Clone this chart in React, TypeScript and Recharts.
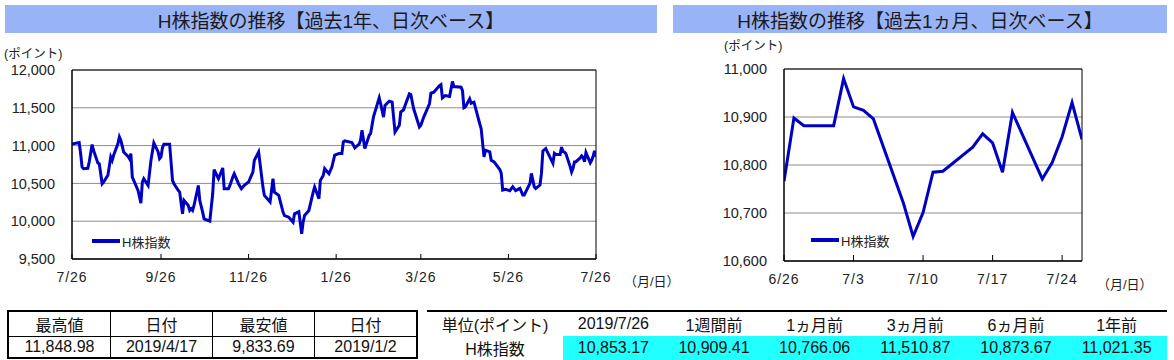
import React from 'react';
import { LineChart, Line, XAxis, YAxis, CartesianGrid, ReferenceArea, Legend } from 'recharts';

// ---------- data: past 1 year (daily) ----------
const yearDates: string[] = [
  '2018-07-26','2018-07-31','2018-08-01','2018-08-02','2018-08-03','2018-08-06','2018-08-07','2018-08-09','2018-08-10','2018-08-13',
  '2018-08-14','2018-08-16','2018-08-17','2018-08-20','2018-08-22','2018-08-23','2018-08-24','2018-08-27','2018-08-28','2018-08-29',
  '2018-08-31','2018-09-03','2018-09-04','2018-09-05','2018-09-06','2018-09-07','2018-09-10','2018-09-12','2018-09-13','2018-09-14',
  '2018-09-17','2018-09-19','2018-09-21','2018-09-24','2018-09-25','2018-09-26','2018-09-27','2018-09-28','2018-10-02','2018-10-03',
  '2018-10-04','2018-10-05','2018-10-08','2018-10-09','2018-10-11','2018-10-12','2018-10-15','2018-10-16','2018-10-17','2018-10-18',
  '2018-10-19','2018-10-22','2018-10-23','2018-10-25','2018-10-26','2018-10-30','2018-11-01','2018-11-02','2018-11-05','2018-11-08',
  '2018-11-09','2018-11-12','2018-11-13','2018-11-15','2018-11-16','2018-11-19','2018-11-21','2018-11-23','2018-11-26','2018-11-28',
  '2018-11-29','2018-11-30','2018-12-03','2018-12-04','2018-12-06','2018-12-07','2018-12-11','2018-12-13','2018-12-14','2018-12-17',
  '2018-12-20','2018-12-21','2018-12-24','2018-12-27','2018-12-28','2018-12-31','2019-01-02','2019-01-03','2019-01-04','2019-01-07',
  '2019-01-10','2019-01-11','2019-01-14','2019-01-15','2019-01-17','2019-01-18','2019-01-21','2019-01-23','2019-01-25','2019-01-28',
  '2019-01-30','2019-01-31','2019-02-01','2019-02-06','2019-02-08','2019-02-11','2019-02-12','2019-02-13','2019-02-15','2019-02-18',
  '2019-02-19','2019-02-21','2019-02-25','2019-02-26','2019-02-28','2019-03-01','2019-03-04','2019-03-06','2019-03-08','2019-03-11',
  '2019-03-12','2019-03-14','2019-03-15','2019-03-18','2019-03-19','2019-03-21','2019-03-25','2019-03-26','2019-03-28','2019-04-01',
  '2019-04-02','2019-04-04','2019-04-08','2019-04-09','2019-04-10','2019-04-12','2019-04-15','2019-04-17','2019-04-18','2019-04-23',
  '2019-04-24','2019-04-25','2019-04-26','2019-04-29','2019-04-30','2019-05-02','2019-05-06','2019-05-07','2019-05-09','2019-05-10',
  '2019-05-13','2019-05-14','2019-05-16','2019-05-20','2019-05-21','2019-05-22','2019-05-24','2019-05-27','2019-05-29','2019-05-31',
  '2019-06-03','2019-06-04','2019-06-05','2019-06-06','2019-06-10','2019-06-11','2019-06-13','2019-06-14','2019-06-17','2019-06-18',
  '2019-06-19','2019-06-21',
];
const yearValues: number[] = [
  11021.35,11040,10895,10717,10695,10700,10783,11013,10938,10770,
  10761,10496,10518,10607,10850,10805,10872,11026,11115,11070,
  10916,10858,10827,10894,10584,10540,10407,10239,10518,10562,
  10473,10805,11035,10916,10827,10850,10973,11018,11018,10783,
  10540,10496,10407,10385,10098,10275,10208,10142,10164,10142,
  10208,10473,10275,10120,10031,10000,10363,10682,10562,10704,
  10430,10430,10473,10584,10628,10496,10430,10473,10518,10606,
  10650,10805,10916,10761,10451,10341,10253,10562,10385,10341,
  10120,10075,10053,9987,10098,10124,9833.69,9987,10075,10142,
  10385,10451,10297,10540,10606,10695,10628,10717,10873.67,10894,
  10894,11049,11062,11040,10969,11018,11071,11203,10960,11137,
  11159,11380,11632,11553,11377,11531,11588,11575,11180,11268,
  11443,11474,11531,11684,11675,11487,11246,11268,11377,11553,
  11693,11706,11794,11807,11632,11662,11649,11848.98,11781,11772,
  11728,11500,11510.87,11618,11561,11575,11289,11224,10851,10939,
  10917,10807,10785,10684,10632,10412,10421,10404,10456,10404,
  10434,10390,10347,10347,10500,10632,10456,10434,10478,10632,
  10930,10961,
];

// ---------- data: past 1 month (daily) ----------
const monthDates: string[] = [
  '2019-06-26','2019-06-27','2019-06-28','2019-07-01','2019-07-02','2019-07-03','2019-07-04','2019-07-05',
  '2019-07-08','2019-07-09','2019-07-10','2019-07-11','2019-07-12','2019-07-15','2019-07-16','2019-07-17',
  '2019-07-18','2019-07-19','2019-07-22','2019-07-23','2019-07-24','2019-07-25','2019-07-26',
];
const monthValues: number[] = [
  10766.06,10898,10882,10882,10980,10921,10914,10896,
  10722,10651,10701,10785,10787,10837,10865,10846,
  10785,10909.41,10771,10805,10859,10930,10853.17,
];

// ---------- axes ----------
const yearRange: string[] = ['2018-07-26', '2019-07-26'];
const yearTickDates: string[] = ['2018-07-26','2018-09-26','2018-11-26','2019-01-26','2019-03-26','2019-05-26','2019-07-26'];
const yearYTicks: number[] = [9500, 10000, 10500, 11000, 11500, 12000];
const monthRange: string[] = ['2019-06-26', '2019-07-26'];
const monthTickDates: string[] = ['2019-06-26','2019-07-03','2019-07-10','2019-07-17','2019-07-24'];
const monthYTicks: number[] = [10600, 10700, 10800, 10900, 11000];

// ---------- tables ----------
const hiLoHeaders: string[] = ['最高値', '日付', '最安値', '日付'];
const hiLoValues: string[] = ['11,848.98', '2019/4/17', '9,833.69', '2019/1/2'];
const perfHeaders: string[] = ['単位(ポイント)', '2019/7/26', '1週間前', '1ヵ月前', '3ヵ月前', '6ヵ月前', '1年前'];
const perfRowLabel = 'H株指数';
const perfValues: string[] = ['10,853.17', '10,909.41', '10,766.06', '11,510.87', '10,873.67', '11,021.35'];

const SERIES_NAME = 'H株指数';
const LINE_COLOR = '#0000c4';
const FONT = "'Liberation Sans', 'Noto Sans CJK JP', sans-serif";

const DAY = 86400000;
const toDay = (s: string) => {
  const [y, m, d] = s.split('-').map(Number);
  return Date.UTC(y, m - 1, d) / DAY;
};
const fmtMD = (v: number) => {
  const dt = new Date(v * DAY);
  return `${dt.getUTCMonth() + 1}/${dt.getUTCDate()}`;
};
const fmtNum = (v: number) => v.toLocaleString('en-US');

const yearData = [...yearDates, ...monthDates].map((d, i) => ({
  t: toDay(d),
  v: i < yearValues.length ? yearValues[i] : monthValues[i - yearValues.length],
}));
const monthData = monthDates.map((d, i) => ({ t: toDay(d), v: monthValues[i] }));

const makeTick = (len: number, dyText: number) => (props: any) => {
  const { x, y, payload } = props;
  return (
    <g>
      <line x1={x} x2={x} y1={y} y2={y - len} stroke="#000" strokeWidth={1} />
      <text x={x} y={y + dyText} textAnchor="middle" fontSize={14} fill="#222" fontFamily={FONT} letterSpacing={1}>
        {fmtMD(payload.value)}
      </text>
    </g>
  );
};

const renderLegend = () => (
  <div style={{ display: 'flex', alignItems: 'center', height: 18, fontFamily: FONT, fontSize: 13, color: '#222', whiteSpace: 'nowrap' }}>
    <svg width={30} height={18}>
      <line x1={1} x2={29} y1={9} y2={9} stroke={LINE_COLOR} strokeWidth={4} />
    </svg>
    <span style={{ marginLeft: 1 }}>{SERIES_NAME}</span>
  </div>
);

const abs = (left: number, top: number, extra: React.CSSProperties = {}): React.CSSProperties => ({
  position: 'absolute', left, top, ...extra,
});

const titleStyle = (left: number, width: number): React.CSSProperties => ({
  position: 'absolute', left, top: 5, width, height: 28, background: '#99b4f6',
  display: 'flex', alignItems: 'center', justifyContent: 'center',
  fontSize: 19, color: '#1a1a1a', fontFamily: FONT,
});

export default function App() {
  const yDom = [toDay(yearRange[0]), toDay(yearRange[1])];
  const mDom = [toDay(monthRange[0]), toDay(monthRange[1])];
  const cell: React.CSSProperties = { border: '1px solid #000', width: 101, height: 20, padding: 0, textAlign: 'center', fontSize: 16 };
  return (
    <div style={{ position: 'absolute', left: 0, top: 0, width: 1174, height: 360, background: '#fff', fontFamily: FONT, color: '#222', overflow: 'hidden' }}>
      <div style={titleStyle(5, 652)}>H株指数の推移【過去1年、日次ベース】</div>
      <div style={titleStyle(673, 494)}>H株指数の推移【過去1ヵ月、日次ベース】</div>

      <div style={abs(4, 48, { fontSize: 12.5, lineHeight: '13px' })}>(ポイント)</div>
      <div style={abs(724, 40, { fontSize: 12.5, lineHeight: '13px' })}>(ポイント)</div>
      <div style={abs(624, 275, { fontSize: 13, lineHeight: '14px' })}>（月/日）</div>
      <div style={abs(1097, 278, { fontSize: 13, lineHeight: '14px' })}>（月/日）</div>

      {/* 1-year chart */}
      <div style={abs(0, 40)}>
        <LineChart width={660} height={250} data={yearData} margin={{ top: 30, right: 64, bottom: 6, left: 12 }}>
          <CartesianGrid vertical={false} stroke="#8c8c8c" />
          <XAxis
            type="number" dataKey="t" domain={yDom} ticks={yearTickDates.map(toDay)} interval={0}
            allowDataOverflow axisLine={{ stroke: '#000' }} tickLine={false} tickSize={0} tickMargin={0}
            height={25} tick={makeTick(5, 23)}
          />
          <YAxis
            type="number" domain={[yearYTicks[0], yearYTicks[yearYTicks.length - 1]]} ticks={yearYTicks} interval={0}
            tickFormatter={fmtNum} axisLine={{ stroke: '#000' }} tickLine={false} tickSize={0} tickMargin={17}
            width={60} tick={{ fontSize: 14.5, fill: '#222', fontFamily: FONT }}
          />
          <ReferenceArea x1={yDom[0]} x2={yDom[1]} y1={yearYTicks[0]} y2={yearYTicks[yearYTicks.length - 1]} fill="none" stroke="#000" strokeWidth={1} fillOpacity={0} />
          <Legend layout="horizontal" verticalAlign="middle" align="center" wrapperStyle={{ left: 91, top: 192, width: 120 }} content={renderLegend} />
          <Line type="linear" dataKey="v" name={SERIES_NAME} stroke={LINE_COLOR} strokeWidth={3} dot={false} isAnimationActive={false} />
        </LineChart>
      </div>

      {/* 1-month chart */}
      <div style={abs(660, 40)}>
        <LineChart width={514} height={250} data={monthData} margin={{ top: 29, right: 92, bottom: 4, left: 64 }}>
          <CartesianGrid vertical={false} stroke="#8c8c8c" />
          <XAxis
            type="number" dataKey="t" domain={mDom} ticks={monthTickDates.map(toDay)} interval={0}
            allowDataOverflow axisLine={{ stroke: '#000' }} tickLine={false} tickSize={0} tickMargin={0}
            height={25} tick={makeTick(6, 23)}
          />
          <YAxis
            type="number" domain={[monthYTicks[0], monthYTicks[monthYTicks.length - 1]]} ticks={monthYTicks} interval={0}
            tickFormatter={fmtNum} axisLine={{ stroke: '#000' }} tickLine={false} tickSize={0} tickMargin={17}
            width={60} tick={{ fontSize: 14.5, fill: '#222', fontFamily: FONT }}
          />
          <ReferenceArea x1={mDom[0]} x2={mDom[1]} y1={monthYTicks[0]} y2={monthYTicks[monthYTicks.length - 1]} fill="none" stroke="#000" strokeWidth={1} fillOpacity={0} />
          <Legend layout="horizontal" verticalAlign="middle" align="center" wrapperStyle={{ left: 150, top: 191, width: 120 }} content={renderLegend} />
          <Line type="linear" dataKey="v" name={SERIES_NAME} stroke={LINE_COLOR} strokeWidth={3} dot={false} isAnimationActive={false} />
        </LineChart>
      </div>

      {/* high / low table */}
      <table style={{ ...abs(7, 310), borderCollapse: 'collapse', border: '2px solid #000', fontFamily: FONT, color: '#111' }}>
        <tbody>
          <tr>{hiLoHeaders.map((h, i) => <td key={i} style={cell}>{h}</td>)}</tr>
          <tr>{hiLoValues.map((h, i) => <td key={i} style={cell}>{h}</td>)}</tr>
        </tbody>
      </table>

      {/* performance table */}
      <table style={{ ...abs(427, 310), width: 740, borderCollapse: 'collapse', borderTop: '2px solid #000', borderBottom: '2px solid #000', fontFamily: FONT, color: '#111', tableLayout: 'fixed' }}>
        <tbody>
          <tr>
            {perfHeaders.map((h, i) => (
              <td key={i} style={{ width: i === 0 ? 136 : 100.6, height: 20, padding: 0, textAlign: 'center', fontSize: 16 }}>{h}</td>
            ))}
          </tr>
          <tr>
            <td style={{ height: 20, padding: 0, textAlign: 'center', fontSize: 16 }}>{perfRowLabel}</td>
            {perfValues.map((v, i) => (
              <td key={i} style={{ height: 20, padding: 0, textAlign: 'center', fontSize: 16, background: '#22ffff' }}>{v}</td>
            ))}
          </tr>
        </tbody>
      </table>
    </div>
  );
}
